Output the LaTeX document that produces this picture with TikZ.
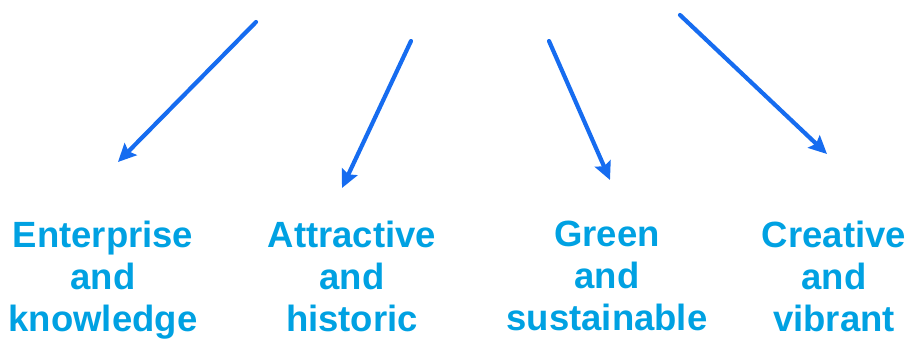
\documentclass[tikz,border=0pt]{standalone}
\usepackage{fontspec}
\setmainfont{Liberation Sans}
\usetikzlibrary{arrows.meta}
\definecolor{txtblue}{RGB}{0,161,226}
\definecolor{arrblue}{RGB}{22,108,240}
\tikzset{
  lbl/.style={anchor=north, inner sep=0pt, align=center, text=txtblue,
    font=\fontsize{36.5}{42}\selectfont\bfseries},
  arr/.style={draw=arrblue, line width=4.2pt, line cap=round,
    -{Stealth[length=18pt,width=17pt,inset=3pt]}}
}
\begin{document}
\begin{tikzpicture}[x=1pt,y=-1pt]
\useasboundingbox (0,0) rectangle (908,338);
\clip (0,0) rectangle (908,338);
\coordinate (s1) at (256,22);  \coordinate (e1) at (118,162);
\coordinate (s2) at (411,41);  \coordinate (e2) at (342,188);
\coordinate (s3) at (549,41);  \coordinate (e3) at (610,180);
\coordinate (s4) at (680,15);  \coordinate (e4) at (827,154);
\draw[arr] (s1) -- (e1);
\draw[arr] (s2) -- (e2);
\draw[arr] (s3) -- (e3);
\draw[arr] (s4) -- (e4);
\node[lbl] (t1) at (103,221) {Enterprise\\and\\knowledge};
\node[lbl] (t2) at (352,221) {Attractive\\and\\historic};
\node[lbl] (t3) at (607,221) {Green\\and\\sustainable};
\node[lbl] (t4) at (834,221) {Creative\\and\\vibrant};
\end{tikzpicture}
\end{document}
